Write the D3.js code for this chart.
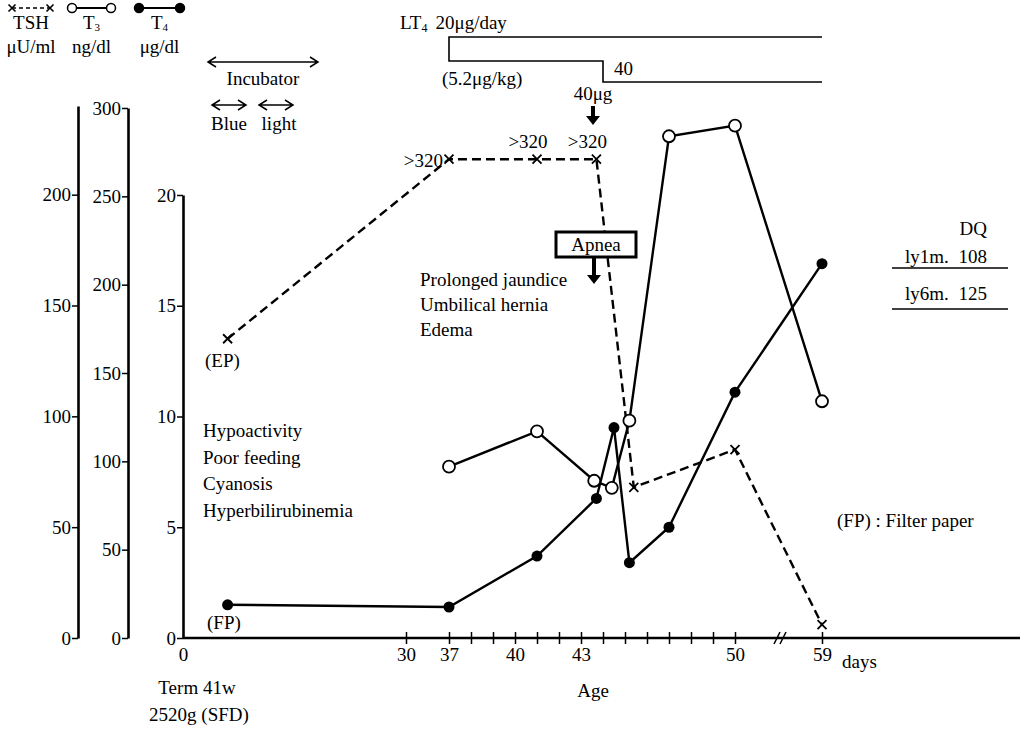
<!DOCTYPE html>
<html>
<head>
<meta charset="utf-8">
<script src="https://cdn.jsdelivr.net/npm/d3@7"></script>
<style>
  body { margin: 0; background: #fff; }
  svg text { font-family: "Liberation Serif", "DejaVu Serif", serif; font-size: 19px; fill: #000; }
</style>
</head>
<body>
<div id="chart"></div>
<script>
// 1: DATA
const tshDays   = [6, 37, 41, 43.7, 45.4, 50, 59];
const tshValues = [135, 216, 216, 216, 68, 85, 6];

const t3Days   = [37, 41, 43.6, 44.4, 45.2, 47, 50, 59];
const t3Values = [97, 117, 89, 85, 123, 284, 290, 134];

const t4Days   = [6, 37, 41, 43.7, 44.5, 45.2, 47, 50, 59];
const t4Values = [1.5, 1.4, 3.7, 6.3, 9.5, 3.4, 5.0, 11.1, 16.9];

const tshTicks = [0, 50, 100, 150, 200];
const t3Ticks  = [0, 50, 100, 150, 200, 250, 300];
const t4Ticks  = [0, 5, 10, 15, 20];
const dayTicks  = [0, 30, 37, 38, 39, 40, 41, 42, 43, 44, 45, 46, 47, 48, 49, 50, 59];
const dayLabels = [0, 30, 37, 40, 43, 50, 59];

const overLabels = [">320", ">320", ">320"];   // TSH off-scale points
const symptoms1 = ["Hypoactivity", "Poor feeding", "Cyanosis", "Hyperbilirubinemia"];
const symptoms2 = ["Prolonged jaundice", "Umbilical hernia", "Edema"];
const dqRows = [["ly1m.", "108"], ["ly6m.", "125"]];

// 2: SVG
const svg = d3.select("#chart").append("svg")
    .attr("width", 1031)
    .attr("height", 729);

// 3: SCALES (x axis is broken / stretched around days 37-50)
const x = d3.scaleLinear().domain([0, 30, 37, 50, 59]).range([183, 406, 449, 735, 822]);
const yTSH = d3.scaleLinear().domain([0, 240]).range([638, 106]);
const yT3  = d3.scaleLinear().domain([0, 300]).range([638, 108]);
const yT4  = d3.scaleLinear().domain([0, 20]).range([638, 195]);

// 4: AXES
function leftAxis(scale, xPos, ticks) {
    const g = svg.append("g")
        .attr("transform", `translate(${xPos},0)`)
        .call(d3.axisLeft(scale).tickValues(ticks).tickSize(6).tickSizeOuter(0).tickPadding(1));
    g.select(".domain").attr("stroke-width", 2.6);
    g.selectAll(".tick line").attr("stroke-width", 1.5);
    return g;
}
leftAxis(yTSH, 78, tshTicks);
leftAxis(yT3, 128, t3Ticks);
leftAxis(yT4, 183, t4Ticks);

const gx = svg.append("g")
    .attr("transform", "translate(0,638)")
    .call(d3.axisBottom(x).tickValues(dayTicks).tickSizeOuter(0)
        .tickFormat(d => dayLabels.includes(d) ? d : ""));
gx.select(".domain").remove();
gx.selectAll(".tick line").attr("y1", -6).attr("y2", 6).attr("stroke-width", 1.5)
    .filter(d => d === 0).remove();
gx.selectAll(".tick text").attr("y", 10);

svg.append("line")
    .attr("x1", 183).attr("x2", 1020).attr("y1", 638).attr("y2", 638)
    .attr("stroke", "#000").attr("stroke-width", 2.6);

// axis break "//"
[0, 6].forEach(o => {
    svg.append("line")
        .attr("x1", 774 + o).attr("y1", 644).attr("x2", 780 + o).attr("y2", 632)
        .attr("stroke", "#000").attr("stroke-width", 1.5);
});

svg.append("text").attr("x", 842).attr("y", 668).text("days");
svg.append("text").attr("x", 197).attr("y", 694).attr("text-anchor", "middle").text("Term 41w");
svg.append("text").attr("x", 199).attr("y", 721).attr("text-anchor", "middle").text("2520g (SFD)");
svg.append("text").attr("x", 593).attr("y", 697).attr("text-anchor", "middle").text("Age");

// 5: LINES
const tsh = tshDays.map((d, i) => ({ day: d, v: tshValues[i] }));
const t3 = t3Days.map((d, i) => ({ day: d, v: t3Values[i] }));
const t4 = t4Days.map((d, i) => ({ day: d, v: t4Values[i] }));

svg.append("path")
    .attr("d", d3.line().x(d => x(d.day)).y(d => yTSH(d.v))(tsh))
    .attr("fill", "none").attr("stroke", "#000").attr("stroke-width", 2.4)
    .attr("stroke-dasharray", "9,5");

svg.append("path")
    .attr("d", d3.line().x(d => x(d.day)).y(d => yT3(d.v))(t3))
    .attr("fill", "none").attr("stroke", "#000").attr("stroke-width", 2.4);

svg.append("path")
    .attr("d", d3.line().x(d => x(d.day)).y(d => yT4(d.v))(t4))
    .attr("fill", "none").attr("stroke", "#000").attr("stroke-width", 2.4);

// Apnea box sits on top of the TSH line
svg.append("rect")
    .attr("x", 556).attr("y", 232).attr("width", 80).attr("height", 25)
    .attr("fill", "#fff").attr("stroke", "#000").attr("stroke-width", 3);
svg.append("text").attr("x", 596).attr("y", 251).attr("text-anchor", "middle").text("Apnea");

// markers
const cross = "M-4.5,-4.5L4.5,4.5M-4.5,4.5L4.5,-4.5";
svg.selectAll(".tsh-pt").data(tsh).enter().append("path")
    .attr("class", "tsh-pt")
    .attr("transform", d => `translate(${x(d.day)},${yTSH(d.v)})`)
    .attr("d", cross).attr("stroke", "#000").attr("stroke-width", 1.8);

svg.selectAll(".t3-pt").data(t3).enter().append("circle")
    .attr("class", "t3-pt")
    .attr("cx", d => x(d.day)).attr("cy", d => yT3(d.v)).attr("r", 6)
    .attr("fill", "#fff").attr("stroke", "#000").attr("stroke-width", 1.8);

svg.selectAll(".t4-pt").data(t4).enter().append("circle")
    .attr("class", "t4-pt")
    .attr("cx", d => x(d.day)).attr("cy", d => yT4(d.v)).attr("r", 5.5)
    .attr("fill", "#000");

// >320 labels
const overPts = tsh.filter(d => d.v > 200);
svg.append("text").attr("x", x(overPts[0].day) - 6).attr("y", yTSH(overPts[0].v) + 8)
    .attr("text-anchor", "end").text(overLabels[0]);
overPts.slice(1).forEach((d, i) => {
    svg.append("text").attr("x", x(d.day) - 9).attr("y", yTSH(d.v) - 11)
        .attr("text-anchor", "middle").text(overLabels[i + 1]);
});

// 6: LEGEND (top left)
function legendItem(x0, x1, kind, name, sub, unit) {
    const g = svg.append("g");
    g.append("line").attr("x1", x0).attr("x2", x1).attr("y1", 8).attr("y2", 8)
        .attr("stroke", "#000").attr("stroke-width", kind === "x" ? 1.5 : 2)
        .attr("stroke-dasharray", kind === "x" ? "4,3" : null);
    [x0, x1].forEach(cx => {
        if (kind === "x") {
            g.append("path").attr("d", "M-3.5,-3.5L3.5,3.5M-3.5,3.5L3.5,-3.5")
                .attr("transform", `translate(${cx},8)`).attr("stroke", "#000").attr("stroke-width", 1.6);
        } else {
            g.append("circle").attr("cx", cx).attr("cy", 8).attr("r", 4.5)
                .attr("fill", kind === "o" ? "#fff" : "#000").attr("stroke", "#000").attr("stroke-width", 1.5);
        }
    });
    const cx = (x0 + x1) / 2;
    const t = g.append("text").attr("x", cx).attr("y", 29).attr("text-anchor", "middle").text(name);
    if (sub) t.append("tspan").style("font-size", "11px").attr("dy", 2).text(sub);
    g.append("text").attr("x", cx).attr("y", 53).attr("text-anchor", "middle").text(unit);
}
legendItem(12, 50, "x", "TSH", null, "μU/ml");
legendItem(72, 111, "o", "T", "3", "ng/dl");
legendItem(139, 180, "f", "T", "4", "μg/dl");

// 7: ANNOTATIONS
function dblArrow(x0, x1, y) {
    svg.append("path")
        .attr("d", `M${x0},${y}H${x1}M${x0 + 8},${y - 5}L${x0},${y}L${x0 + 8},${y + 5}M${x1 - 8},${y - 5}L${x1},${y}L${x1 - 8},${y + 5}`)
        .attr("fill", "none").attr("stroke", "#000").attr("stroke-width", 1.5);
}
dblArrow(208, 318, 62);
svg.append("text").attr("x", 263).attr("y", 85).attr("text-anchor", "middle").text("Incubator");
dblArrow(212, 246, 105);
dblArrow(259, 293, 105);
svg.append("text").attr("x", 229).attr("y", 130).attr("text-anchor", "middle").text("Blue");
svg.append("text").attr("x", 279).attr("y", 130).attr("text-anchor", "middle").text("light");

function downArrow(cx, y0, y1) {
    svg.append("path")
        .attr("d", `M${cx - 2},${y0}H${cx + 2}V${y1 - 9}H${cx + 7}L${cx},${y1}L${cx - 7},${y1 - 9}H${cx - 2}Z`)
        .attr("fill", "#000");
}

// LT4 dosing
const lt4 = svg.append("text").attr("x", 400).attr("y", 29).text("LT");
lt4.append("tspan").style("font-size", "12px").attr("dy", 3).text("4");
lt4.append("tspan").attr("dy", -3).attr("dx", 8).text("20μg/day");
svg.append("path")
    .attr("d", `M822,37H${x(37)}V61H603V82H822`)
    .attr("fill", "none").attr("stroke", "#000").attr("stroke-width", 1.6);
svg.append("text").attr("x", 614).attr("y", 75).text("40");
svg.append("text").attr("x", 442).attr("y", 85).text("(5.2μg/kg)");
svg.append("text").attr("x", 593).attr("y", 100).attr("text-anchor", "middle").text("40μg");
downArrow(593, 106, 125);
downArrow(594, 258, 284);

symptoms2.forEach((s, i) => {
    svg.append("text").attr("x", 420).attr("y", 286 + i * 25).text(s);
});
symptoms1.forEach((s, i) => {
    svg.append("text").attr("x", 203).attr("y", 437 + i * 26.5).text(s);
});
svg.append("text").attr("x", 205).attr("y", 367).text("(EP)");
svg.append("text").attr("x", 207).attr("y", 629).text("(FP)");
svg.append("text").attr("x", 837).attr("y", 527).text("(FP) : Filter paper");

// DQ table
svg.append("text").attr("x", 987).attr("y", 235).attr("text-anchor", "end").text("DQ");
dqRows.forEach(([age, dq], i) => {
    const y = 263 + i * 37;
    svg.append("text").attr("x", 905).attr("y", y).text(age);
    svg.append("text").attr("x", 987).attr("y", y).attr("text-anchor", "end").text(dq);
});
[268, 309].forEach(y => {
    svg.append("line").attr("x1", 892).attr("x2", 1008).attr("y1", y).attr("y2", y)
        .attr("stroke", "#000").attr("stroke-width", 1.6);
});
</script>
</body>
</html>
